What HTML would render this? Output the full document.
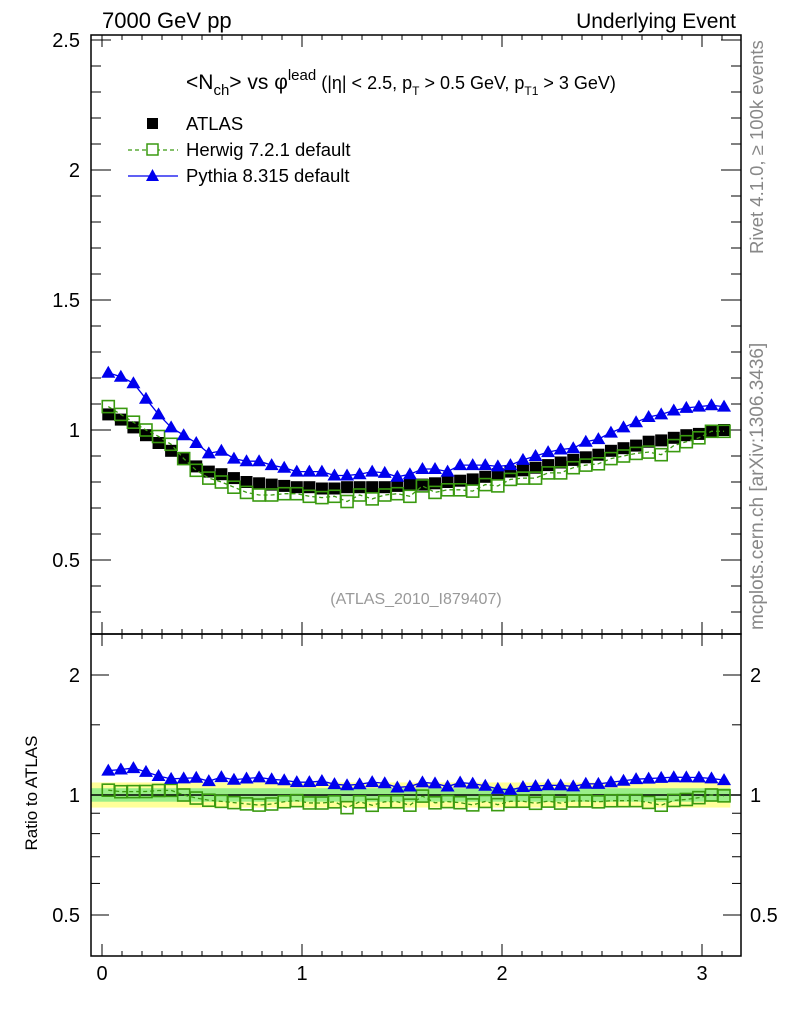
<!DOCTYPE html>
<html><head><meta charset="utf-8"><style>
body{margin:0;background:#fff;font-family:"Liberation Sans",sans-serif}
svg text{font-family:"Liberation Sans",sans-serif}
</style></head><body>
<svg id="c" width="786" height="1024" xmlns="http://www.w3.org/2000/svg">
<text x="102" y="28" font-size="22">7000 GeV pp</text>
<text x="736" y="28" font-size="21" text-anchor="end">Underlying Event</text>
<text x="186" y="89" font-size="21">&lt;N<tspan font-size="15" dy="6">ch</tspan><tspan dy="-6">&gt; vs φ</tspan><tspan font-size="15" dy="-9">lead</tspan><tspan font-size="18" dy="9"> (|η| &lt; 2.5, p</tspan><tspan font-size="12" dy="6">T</tspan><tspan font-size="18" dy="-6"> &gt; 0.5 GeV, p</tspan><tspan font-size="12" dy="6">T1</tspan><tspan font-size="18" dy="-6"> &gt; 3 GeV)</tspan></text>
<text x="416" y="604" font-size="16" fill="#999" text-anchor="middle">(ATLAS_2010_I879407)</text>
<text transform="translate(763,254) rotate(-90)" font-size="18.5" fill="#888">Rivet 4.1.0, ≥ 100k events</text>
<text transform="translate(763,630) rotate(-90)" font-size="19" fill="#888">mcplots.cern.ch [arXiv:1306.3436]</text>
<text transform="translate(37,793) rotate(-90)" font-size="17" text-anchor="middle">Ratio to ATLAS</text>
<g>
<rect x="147" y="118" width="11" height="11" fill="#000"/>
<text x="186" y="130" font-size="18.5">ATLAS</text>
<line x1="128" y1="150" x2="178" y2="150" stroke="#3a9a10" stroke-dasharray="4,3" stroke-width="1.3"/>
<rect x="147" y="144" width="11" height="11" fill="#fff" stroke="#3a9a10" stroke-width="1.5"/>
<text x="186" y="156" font-size="18.5">Herwig 7.2.1 default</text>
<line x1="128" y1="176" x2="178" y2="176" stroke="#0000ee" stroke-width="1.3"/>
<polygon points="152.5,169 159,181 146,181" fill="#0000ee"/>
<text x="186" y="182" font-size="18.5">Pythia 8.315 default</text>
</g>
<g id="g"></g>
</svg>
<script>
const atlas=[1.06,1.04,1.01,0.98,0.95,0.92,0.89,0.86,0.84,0.83,0.815,0.80,0.795,0.79,0.785,0.78,0.78,0.775,0.775,0.78,0.78,0.78,0.78,0.785,0.79,0.79,0.795,0.80,0.805,0.81,0.82,0.83,0.84,0.845,0.855,0.865,0.875,0.885,0.895,0.905,0.92,0.93,0.94,0.955,0.96,0.97,0.98,0.985,0.995,1.0];
const herwig=[1.09,1.06,1.03,1.0,0.975,0.945,0.89,0.845,0.815,0.80,0.78,0.76,0.75,0.75,0.755,0.755,0.745,0.74,0.745,0.725,0.75,0.735,0.75,0.755,0.745,0.785,0.76,0.77,0.77,0.765,0.79,0.785,0.81,0.815,0.815,0.835,0.835,0.855,0.865,0.87,0.89,0.9,0.91,0.915,0.905,0.94,0.955,0.97,0.995,0.995];
const pythia=[1.22,1.205,1.18,1.12,1.06,1.01,0.98,0.95,0.91,0.92,0.89,0.88,0.88,0.865,0.855,0.84,0.84,0.84,0.825,0.825,0.83,0.84,0.835,0.82,0.83,0.85,0.85,0.84,0.865,0.865,0.865,0.86,0.865,0.885,0.9,0.915,0.925,0.93,0.955,0.965,0.99,1.01,1.03,1.05,1.06,1.075,1.085,1.09,1.095,1.09];
const mainTicks=["0.5","1","1.5","2","2.5"];
const ratioTicks=["0.5","1","2"];
const xTicks=["0","1","2","3"];
const NS="http://www.w3.org/2000/svg",g=document.getElementById('g');
const L=91,R=741,T=35,M=634,B=956;
const X=v=>102+(v)*200;
const Y=v=>430-(v-1)*260;
const YR=r=>795-173.1*Math.log(r);
function el(t,a,n){const e=document.createElementNS(NS,t);for(const k in a)e.setAttribute(k,a[k]);


g.appendChild(e);return e;}
const N=atlas.length,w=Math.PI/N;
const xs=atlas.map((_,i)=>(i+0.5)*w);
el('rect',{x:L,y:YR(1.075),width:X(Math.PI)-L,height:YR(0.93)-YR(1.075),fill:'#ffff99'},'ratio-band-outer');
el('rect',{x:L,y:YR(1.04),width:X(Math.PI)-L,height:YR(0.962)-YR(1.04),fill:'#99ee88'},'ratio-band-inner');
el('line',{x1:L,x2:R,y1:YR(1),y2:YR(1),stroke:'#000','stroke-width':1.5},'ratio-unity-line');
el('rect',{x:L,y:T,width:R-L,height:M-T,fill:'none',stroke:'#000','stroke-width':1.5},'main-frame');
el('rect',{x:L,y:M,width:R-L,height:B-M,fill:'none',stroke:'#000','stroke-width':1.5},'ratio-frame');
for(let k=3;k<=25;k++){const v=k/10,y=Y(v);if(y<T||y>M)continue;const maj=k%5==0;
el('line',{x1:L,x2:L+(maj?20:10),y1:y,y2:y,stroke:'#000'},'main-y-tick');
el('line',{x1:R,x2:R-(maj?20:10),y1:y,y2:y,stroke:'#000'},'main-y-tick-right');}
mainTicks.forEach(t=>{const e=el('text',{x:80,y:Y(+t)+7,'font-size':20,'text-anchor':'end'},'main-y-label');e.textContent=t;});
[0.5,0.6,0.7,0.8,0.9,1,1.5,2].forEach(v=>{const y=YR(v),maj=(v==0.5||v==1||v==2);
el('line',{x1:L,x2:L+(maj?18:9),y1:y,y2:y,stroke:'#000'},'ratio-y-tick');
el('line',{x1:R,x2:R-(maj?18:9),y1:y,y2:y,stroke:'#000'},'ratio-y-tick-right');});
ratioTicks.forEach(t=>{let e=el('text',{x:80,y:YR(+t)+7,'font-size':20,'text-anchor':'end'},'ratio-y-label');e.textContent=t;
e=el('text',{x:750,y:YR(+t)+7,'font-size':20},'ratio-y-label-right');e.textContent=t;});
for(let k=0;k<=31;k++){const v=k/10,x=X(v),len=k%10==0?12:5;
el('line',{x1:x,x2:x,y1:B-len,y2:B,stroke:'#000'},'x-tick');
el('line',{x1:x,x2:x,y1:M-len,y2:M+len,stroke:'#000'},'x-tick');
el('line',{x1:x,x2:x,y1:T,y2:T+len,stroke:'#000'},'x-tick-top');}
xTicks.forEach(t=>{const e=el('text',{x:X(+t),y:980,'font-size':20,'text-anchor':'middle'},'x-label');e.textContent=t;});
function line(vals,fy,col,dash,name){el('polyline',{points:vals.map((v,i)=>X(xs[i])+','+fy(v,i)).join(' '),fill:'none',stroke:col,'stroke-width':1.3,'stroke-dasharray':dash||''},name);}
function sq(x,y,fill,stroke,n){el('rect',{x:x-6,y:y-6,width:12,height:12,fill:fill,stroke:stroke,'stroke-width':stroke=='none'?0:1.6},n);}
function tri(x,y,n){el('polygon',{points:`${x},${y-7} ${x+7},${y+5} ${x-7},${y+5}`,fill:'#0000ee'},n);}
atlas.forEach((v,i)=>sq(X(xs[i]),Y(v),'#000','none','atlas-point'));
line(herwig,v=>Y(v),'#3a9a10','4,3','herwig-line');
herwig.forEach((v,i)=>sq(X(xs[i]),Y(v),'none','#3a9a10','herwig-point'));
line(pythia,v=>Y(v),'#0000ee','','pythia-line');
pythia.forEach((v,i)=>tri(X(xs[i]),Y(v),'pythia-point'));
line(herwig,(v,i)=>YR(v/atlas[i]),'#3a9a10','4,3','herwig-ratio-line');
herwig.forEach((v,i)=>sq(X(xs[i]),YR(v/atlas[i]),'none','#3a9a10','herwig-ratio-point'));
line(pythia,(v,i)=>YR(v/atlas[i]),'#0000ee','','pythia-ratio-line');
pythia.forEach((v,i)=>tri(X(xs[i]),YR(v/atlas[i]),'pythia-ratio-point'));
</script>
</body></html>
